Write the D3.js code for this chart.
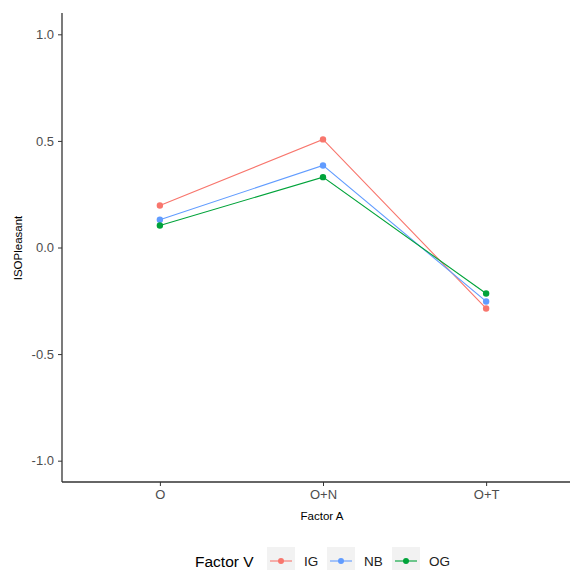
<!DOCTYPE html>
<html>
<head>
<meta charset="utf-8">
<script src="https://cdn.jsdelivr.net/npm/d3@7"></script>
<style>
  body { margin: 0; background: #fff; }
  text { font-family: "Liberation Sans", Arial, sans-serif; }
</style>
</head>
<body>
<script>
// data
var factorA = ["O", "O+N", "O+T"];
var groups = ["IG", "NB", "OG"];
var colors = ["#F8766D", "#619CFF", "#00A33A"];
var valuesIG = [0.197, 0.507, -0.286];
var valuesNB = [0.130, 0.385, -0.253];
var valuesOG = [0.103, 0.330, -0.216];
var yTicks = [-1.0, -0.5, 0.0, 0.5, 1.0];

var series = [valuesIG, valuesNB, valuesOG];

var svg = d3.select("body").append("svg")
    .attr("width", 570)
    .attr("height", 570);

var plotLeft = 62, plotRight = 584, plotTop = 13, plotBottom = 482;

// scales
var x = d3.scalePoint().domain(factorA).range([plotLeft, plotRight]).padding(0.6);
var y = d3.scaleLinear().domain([-1.1, 1.1]).range([plotBottom, plotTop]);
var color = d3.scaleOrdinal().domain(groups).range(colors);

// lines + points
var line = d3.line()
    .x(function (d, i) { return x(factorA[i]); })
    .y(function (d) { return y(d); });

series.forEach(function (vals, k) {
  svg.append("path")
     .datum(vals)
     .attr("d", line)
     .attr("fill", "none")
     .attr("stroke", color(groups[k]))
     .attr("stroke-width", 1.1);
});
series.forEach(function (vals, k) {
  svg.selectAll(".pt" + k).data(vals).enter().append("circle")
     .attr("cx", function (d, i) { return x(factorA[i]); })
     .attr("cy", function (d) { return y(d); })
     .attr("r", 3.2)
     .style("fill", color(groups[k]));
});

// axes (ggplot style: plain hyphen minus)
var fmt = function (d) { return d3.format(".1f")(d).replace("\u2212", "-"); };

var yAxis = svg.append("g")
    .attr("transform", "translate(" + plotLeft + ",0)")
    .call(d3.axisLeft(y).tickValues(yTicks).tickFormat(fmt).tickSize(4).tickPadding(4));
yAxis.select(".domain").remove();
yAxis.selectAll(".tick line").attr("stroke", "#333");
yAxis.selectAll(".tick text").attr("fill", "#4d4d4d").style("font-size", "13px");

var xAxis = svg.append("g")
    .attr("transform", "translate(0," + plotBottom + ")")
    .call(d3.axisBottom(x).tickSize(4).tickPadding(4));
xAxis.select(".domain").remove();
xAxis.selectAll(".tick line").attr("stroke", "#333");
xAxis.selectAll(".tick text").attr("fill", "#4d4d4d").style("font-size", "13px");

// axis lines
svg.append("line")
   .attr("x1", plotLeft).attr("x2", plotLeft)
   .attr("y1", plotTop).attr("y2", plotBottom)
   .attr("stroke", "#333").attr("stroke-width", 1.3);
svg.append("line")
   .attr("x1", plotLeft).attr("x2", 570)
   .attr("y1", plotBottom).attr("y2", plotBottom)
   .attr("stroke", "#333").attr("stroke-width", 1.3);

// axis titles
svg.append("text")
   .attr("x", 322).attr("y", 520)
   .attr("text-anchor", "middle")
   .style("font-size", "11.5px")
   .text("Factor A");

svg.append("text")
   .attr("transform", "translate(22,248) rotate(-90)")
   .attr("text-anchor", "middle")
   .style("font-size", "11.5px")
   .text("ISOPleasant");

// legend
svg.append("text")
   .attr("x", 195).attr("y", 567)
   .style("font-size", "15.5px")
   .text("Factor V");

var keyX = [267, 327, 392];
var legend = svg.selectAll(".key").data(groups).enter().append("g")
    .attr("transform", function (d, i) { return "translate(" + keyX[i] + ",547)"; });
legend.append("rect")
      .attr("width", 28).attr("height", 28)
      .attr("fill", "#f2f2f2");
legend.append("line")
      .attr("x1", 3).attr("x2", 25).attr("y1", 14).attr("y2", 14)
      .attr("stroke", function (d) { return color(d); })
      .attr("stroke-width", 1.1);
legend.append("circle")
      .attr("cx", 14).attr("cy", 14).attr("r", 3)
      .style("fill", function (d) { return color(d); });
legend.append("text")
      .attr("x", 37).attr("y", 19)
      .style("font-size", "13.5px")
      .attr("fill", "#222")
      .text(function (d) { return d; });
</script>
</body>
</html>
